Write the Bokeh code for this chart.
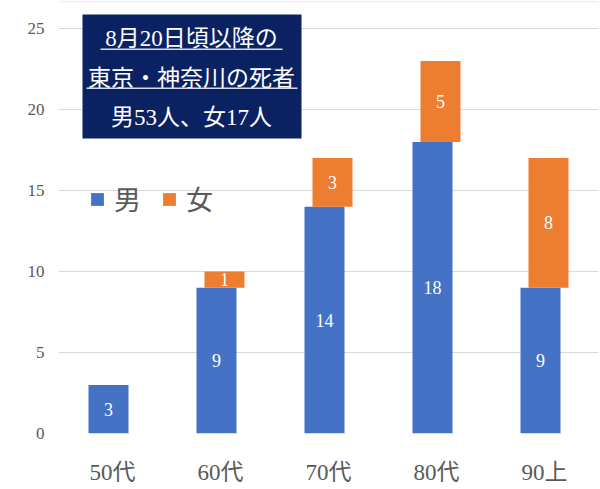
from bokeh.plotting import figure
from bokeh.models import (ColumnDataSource, Range1d, FixedTicker, BoxAnnotation,
                          Label, Legend, LegendItem, LabelSet)
from bokeh.embed import file_html
from bokeh.resources import INLINE

categories = ["50代", "60代", "70代", "80代", "90上"]
male = [3, 9, 14, 18, 9]
female = [0, 1, 3, 5, 8]
y_ticks = [0, 5, 10, 15, 20, 25]
title_lines = ["8月20日頃以降の", "東京・神奈川の死者", "男53人、女17人"]
legend_names = ["男", "女"]

BLUE = "#4472C4"
ORANGE = "#ED7D31"
NAVY = "#0b2262"
GRAY = "#595959"
FONT = "Liberation Serif, Noto Sans CJK JP"

off = 4 / 108.0
bw = 40 / 108.0

n = len(categories)
xc = [i + 0.5 for i in range(n)]
male_src = ColumnDataSource(dict(
    x=[c - off for c in xc], top=male, bottom=[0] * n,
    mid=[m / 2 for m in male], lab=[str(m) for m in male]))
fx, ft, fb, fm, fl = [], [], [], [], []
for c, m, f in zip(xc, male, female):
    if f > 0:
        fx.append(c + off); ft.append(m + f); fb.append(m)
        fm.append(m + f / 2); fl.append(str(f))
fem_src = ColumnDataSource(dict(x=fx, top=ft, bottom=fb, mid=fm, lab=fl))

p = figure(width=600, height=489, output_backend="svg", toolbar_location=None,
           x_range=Range1d(0, 5), y_range=Range1d(0, 433 / 16.2),
           min_border_left=58, min_border_right=2, min_border_top=0,
           min_border_bottom=56)
p.outline_line_color = None
p.background_fill_color = "white"
p.border_fill_color = "white"

rb = p.vbar(x="x", top="top", bottom="bottom", width=bw, source=male_src,
            fill_color=BLUE, line_color=None)
ro = p.vbar(x="x", top="top", bottom="bottom", width=bw, source=fem_src,
            fill_color=ORANGE, line_color=None)

for src in (male_src, fem_src):
    p.add_layout(LabelSet(x="x", y="mid", text="lab", source=src,
                          text_align="center", text_baseline="middle",
                          text_color="white", text_font_size="18px",
                          text_font=FONT))

# axes
p.xaxis.ticker = FixedTicker(ticks=xc)
p.xaxis.major_label_overrides = {c: lab for c, lab in zip(xc, categories)}
p.xaxis.major_label_text_font = FONT
p.xaxis.major_label_text_font_size = "23px"
p.xaxis.major_label_text_color = GRAY
p.xaxis.axis_line_color = None
p.xaxis.major_tick_line_color = None
p.xaxis.minor_tick_line_color = None
p.xaxis.major_label_standoff = 20
p.xgrid.grid_line_color = None

p.yaxis.ticker = FixedTicker(ticks=y_ticks)
p.yaxis.major_label_text_font = FONT
p.yaxis.major_label_text_font_size = "17px"
p.yaxis.major_label_text_color = GRAY
p.yaxis.axis_line_color = None
p.yaxis.major_tick_line_color = None
p.yaxis.minor_tick_line_color = None
p.yaxis.major_tick_out = 0
p.yaxis.major_label_standoff = 14
p.ygrid.grid_line_color = "#d9d9d9"
p.ygrid.grid_line_width = 1
p.ygrid.ticker = FixedTicker(ticks=y_ticks)

# outer border of the image (frame-relative screen units)
p.add_layout(BoxAnnotation(left=-57, right=541, top=432, bottom=-55,
                           left_units="screen", right_units="screen",
                           top_units="screen", bottom_units="screen",
                           fill_alpha=0, line_color="#d4d4d4", line_width=2,
                           level="overlay"))

# title box (frame-relative screen units, y from bottom)
p.add_layout(BoxAnnotation(left=24, right=243, top=419, bottom=295,
                           left_units="screen", right_units="screen",
                           top_units="screen", bottom_units="screen",
                           fill_color=NAVY, fill_alpha=1, line_color=None,
                           level="overlay"))
for txt, yy in zip(title_lines, [395, 355, 316]):
    p.add_layout(Label(x=133, y=yy, x_units="screen", y_units="screen",
                       text=txt, text_align="center", text_baseline="middle",
                       text_color="white", text_font_size="23px",
                       text_font=FONT, level="overlay"))
for l, r, yy in [(42, 224, 384), (28, 239, 345)]:
    p.add_layout(BoxAnnotation(left=l, right=r, top=yy + 1, bottom=yy - 0.5,
                               left_units="screen", right_units="screen",
                               top_units="screen", bottom_units="screen",
                               fill_color="#d8dcea", fill_alpha=1,
                               line_color=None, level="overlay"))

legend = Legend(items=[LegendItem(label=legend_names[0], renderers=[rb]),
                       LegendItem(label=legend_names[1], renderers=[ro])],
                orientation="horizontal", location=(31, 215),
                label_text_font=FONT, label_text_font_size="27px",
                label_text_color=GRAY, glyph_width=16, glyph_height=16,
                label_standoff=9, spacing=20, padding=0, margin=0,
                border_line_color=None, background_fill_alpha=0)
p.add_layout(legend)

open("out.html", "w").write(file_html(p, INLINE))
